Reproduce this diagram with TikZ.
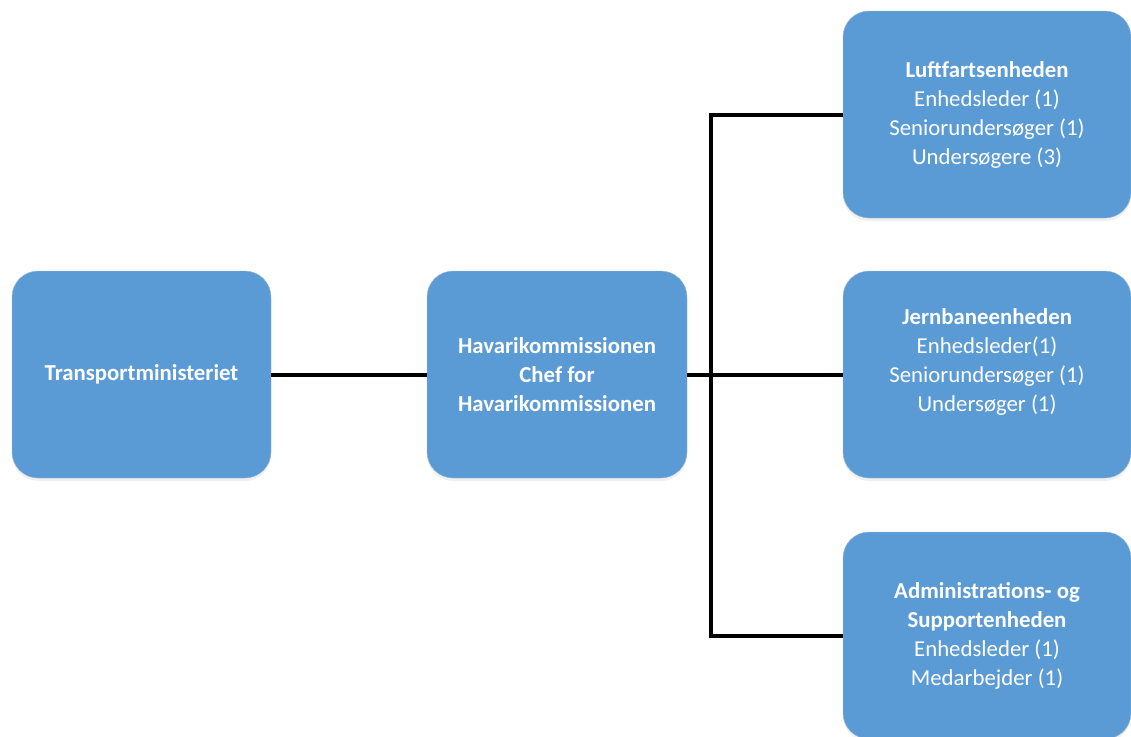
\documentclass[tikz,border=0pt]{standalone}
\usepackage{fontspec}
\setmainfont{Carlito}
\usetikzlibrary{shadows}
\definecolor{unitblue}{HTML}{5B9BD5}
\definecolor{unitedge}{HTML}{9DB7D2}

\begin{document}
\begin{tikzpicture}[x=1pt,y=-1pt]
      \useasboundingbox (0,0) rectangle (1131,736);

      \begin{scope}[every node/.style={rectangle,rounded corners=26pt,fill=unitblue,draw=unitedge,thin,
          text=white,align=center,inner sep=0pt,minimum height=207pt,
          font=\fontsize{22.8}{29}\selectfont,
          drop shadow={opacity=0.12,shadow xshift=0pt,shadow yshift=-3pt}}]
        \node[minimum width=259pt] (transport) at (141.5,374.5) {\textbf{Transportministeriet}};
        \node[minimum width=260pt] (havari) at (557,374.5)
          {\textbf{Havarikommissionen}\\\textbf{Chef for}\\\textbf{Havarikommissionen}};

        \node[minimum width=288pt] (luft) at (987,114.5)
          {\textbf{Luftfartsenheden}\\Enhedsleder (1)\\Seniorundersøger (1)\\Undersøgere (3)};
        \node[minimum width=288pt] (jern) at (987,374.5)
          {\textbf{Jernbaneenheden}\\Enhedsleder(1)\\Seniorundersøger (1)\\Undersøger (1)\\\mbox{}};
        \node[minimum width=288pt] (admin) at (987,635.5)
          {\textbf{Administrations- og}\\\textbf{Supportenheden}\\Enhedsleder (1)\\Medarbejder (1)};
      \end{scope}

      \begin{scope}[line width=4pt]
        \coordinate (bus) at (711,374.5);
        \draw (transport) -- (havari);
        \draw (havari.east) -- (bus);
        \draw (bus) -- (jern.west);
        \draw (bus) |- (luft.west);
        \draw (bus) |- (admin.west);
      \end{scope}

\end{tikzpicture}
\end{document}
